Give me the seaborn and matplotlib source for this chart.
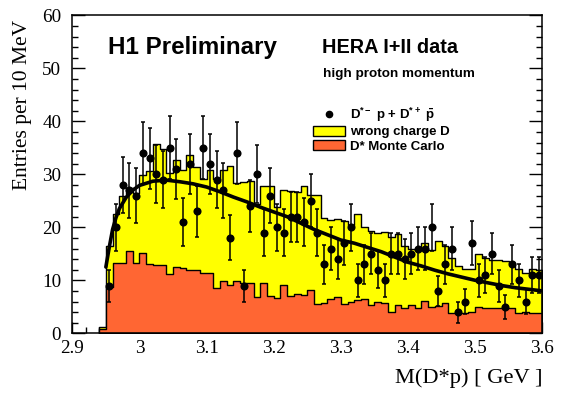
import numpy as np
import pandas as pd
import matplotlib
matplotlib.use("Agg")
import matplotlib.pyplot as plt
from matplotlib.lines import Line2D
from matplotlib.patches import Patch
from matplotlib.ticker import MultipleLocator
import seaborn as sns

# ---------------- data ----------------
bin_left = [round(2.94 + 0.01 * i, 2) for i in range(66)]

wrong_charge = [1.1, 16.4, 22.6, 25.9, 27.5, 26.5, 29.8, 30.6, 35.7, 34.7,
                30.2, 32.7, 30.9, 33.6, 31.4, 29.2, 30.8, 29.2, 30.8, 31.6,
                28.4, 28.6, 28.8, 24.4, 27.8, 27.8, 23.9, 27.0, 26.9, 26.7,
                27.7, 26.1, 26.1, 21.8, 21.4, 21.5, 21.1, 20.4, 22.6, 20.1,
                19.3, 19.0, 19.1, 18.1, 18.7, 16.5, 16.0, 15.8, 17.0, 15.7,
                17.5, 16.5, 14.3, 12.7, 12.1, 12.1, 14.9, 14.3, 13.8, 13.8,
                13.6, 13.3, 12.1, 11.3, 12.1, 11.9]

monte_carlo = [0.8, 8.8, 13.2, 13.2, 15.5, 13.3, 15.2, 13.1, 12.8, 12.8,
               11.1, 12.6, 12.3, 12.0, 11.9, 11.3, 11.4, 8.5, 9.9, 9.1,
               9.9, 9.4, 9.4, 6.8, 9.4, 7.0, 6.6, 9.1, 7.0, 7.4,
               7.3, 8.1, 5.5, 5.8, 6.4, 6.9, 5.5, 6.0, 6.3, 6.4,
               5.3, 5.9, 5.8, 4.1, 5.3, 4.7, 5.3, 4.7, 6.1, 4.9,
               5.2, 5.8, 3.9, 3.9, 3.9, 4.1, 5.0, 4.8, 4.8, 4.7,
               4.7, 4.7, 3.8, 4.1, 3.9, 3.9]

data_mass = [round(2.955 + 0.01 * i, 3) for i in range(65)]
data_counts = [9, 20, 28, 27, 26, 34, 33, 30, 29, 35,
               31, 21, 32, 23, 35, 32, 29, 27, 18, 34,
               9, 24, 30, 19, 26, 20, 19, 22, 22, 21,
               25, 19, 13, 16, 14, 17, 20, 10, 13, 15,
               12, 10, 15, 15, 14, 15, 16, 16, 20, 8,
               13, 16, 4, 6, 17, 10, 11, 15, 9, 5,
               13, 10, 6, 11, 11]

fit_mass = [2.950, 2.955, 2.960, 2.965, 2.970, 2.980, 2.990, 3.000, 3.020,
            3.040, 3.060, 3.080, 3.100, 3.120, 3.140, 3.160, 3.180, 3.200,
            3.220, 3.240, 3.260, 3.280, 3.300, 3.320, 3.340, 3.360, 3.380,
            3.400, 3.420, 3.440, 3.460, 3.480, 3.500, 3.520, 3.540, 3.560,
            3.580, 3.600]
fit_values = [12.5, 16.2, 19.6, 21.8, 23.5, 25.6, 27.0, 27.9, 28.7,
              28.9, 28.6, 28.2, 27.6, 26.7, 25.7, 24.8, 23.8, 22.9,
              22.0, 20.8, 19.6, 18.6, 17.6, 17.0, 16.2, 15.4, 14.4,
              13.4, 12.7, 11.9, 11.2, 10.6, 10.0, 9.5, 9.0, 8.6,
              8.3, 8.0]

x_ticks = [2.9, 3.0, 3.1, 3.2, 3.3, 3.4, 3.5, 3.6]
x_tick_labels = ["2.9", "3", "3.1", "3.2", "3.3", "3.4", "3.5", "3.6"]
y_ticks = [0, 10, 20, 30, 40, 50, 60]

# ---------------- style ----------------
sns.set_style("ticks")
plt.rcParams["font.family"] = ["Liberation Serif", "DejaVu Serif"]
plt.rcParams["text.color"] = "black"
plt.rcParams["axes.labelcolor"] = "black"
plt.rcParams["xtick.color"] = "black"
plt.rcParams["ytick.color"] = "black"
plt.rcParams["axes.edgecolor"] = "black"
plt.rcParams["mathtext.fontset"] = "custom"
plt.rcParams["mathtext.rm"] = "Liberation Sans:bold"
plt.rcParams["mathtext.it"] = "Liberation Sans:bold"
plt.rcParams["mathtext.bf"] = "Liberation Sans:bold"

W, H = 564, 396
fig = plt.figure(figsize=(W / 100, H / 100), dpi=100)
ax = fig.add_axes([72.3 / W, 1 - 333.3 / H, 470 / W, 318 / H])

edges = bin_left + [round(bin_left[-1] + 0.01, 2)]
centers = [round(b + 0.005, 3) for b in bin_left]
hist_df = pd.DataFrame({"mass": centers, "wrong": wrong_charge, "mc": monte_carlo})

sns.histplot(data=hist_df, x="mass", weights="wrong", bins=edges, element="step",
             fill=True, color="#ffff00", alpha=1, edgecolor="black",
             linewidth=1.0, ax=ax, zorder=1)
sns.histplot(data=hist_df, x="mass", weights="mc", bins=edges, element="step",
             fill=True, color="#ff6633", alpha=1, edgecolor="black",
             linewidth=1.0, ax=ax, zorder=2)

fit_df = pd.DataFrame({"mass": fit_mass, "fit": fit_values})
sns.lineplot(data=fit_df, x="mass", y="fit", color="black", linewidth=2.6,
             sort=False, estimator=None, ax=ax, zorder=3)

data_df = pd.DataFrame({"mass": data_mass, "n": data_counts})
ax.errorbar(data_df["mass"], data_df["n"], yerr=np.sqrt(data_df["n"]),
            fmt="none", ecolor="black", elinewidth=1.1, capsize=1.5,
            capthick=1.1, zorder=4)
sns.scatterplot(data=data_df, x="mass", y="n", color="black", s=34,
                marker="o", edgecolor="black", linewidth=0, ax=ax, zorder=5)

# ---------------- axes ----------------
ax.set_xlim(2.9, 3.6)
ax.set_ylim(0, 60)
ax.set_xticks(x_ticks)
ax.set_xticklabels(x_tick_labels)
ax.set_yticks(y_ticks)
ax.xaxis.set_minor_locator(MultipleLocator(0.02))
ax.yaxis.set_minor_locator(MultipleLocator(2))
ax.tick_params(which="both", direction="in", top=False, right=True,
               labelsize=13.8, colors="black", labelcolor="black", width=1.0)
ax.tick_params(axis="y", which="major", length=9.4, pad=8)
ax.tick_params(axis="y", which="minor", length=4.5)
ax.tick_params(axis="x", which="major", length=8, pad=5)
ax.tick_params(axis="x", which="minor", length=4)
for s in ax.spines.values():
    s.set_linewidth(1.1)
    s.set_color("black")

ax.set_xlabel("")
ax.set_ylabel("")
fig.text(542.5 / W, 1 - 383 / H, "M(D*p) [ GeV ]", ha="right", va="baseline",
         fontsize=16.2, color="black", family=["Liberation Serif", "DejaVu Serif"])
fig.text(13 / W, 1 - 105 / H, "Entries per 10 MeV", rotation=90, ha="left",
         va="center", fontsize=15.5, color="black",
         family=["Liberation Serif", "DejaVu Serif"])

# ---------------- annotations ----------------
sans = ["Liberation Sans", "DejaVu Sans"]
fig.text(108 / W, 1 - 54 / H, "H1 Preliminary", ha="left", va="baseline",
         fontsize=17.4, fontweight="bold", color="black", family=sans)
fig.text(322 / W, 1 - 53 / H, "HERA I+II data", ha="left", va="baseline",
         fontsize=14.3, fontweight="bold", color="black", family=sans)
fig.text(323 / W, 1 - 77 / H, "high proton momentum", ha="left", va="baseline",
         fontsize=9.7, fontweight="bold", color="black", family=sans)

handles = [
    Line2D([], [], marker="o", color="black", linestyle="none", markersize=4.5),
    Patch(facecolor="#ffff00", edgecolor="black", linewidth=1.0),
    Patch(facecolor="#ff6633", edgecolor="black", linewidth=1.0),
]
labels = [r"D$^{*-}$ p + D$^{*+}$ $\bar{\mathrm{p}}$", "wrong charge D", "D* Monte Carlo"]
leg = ax.legend(handles, labels, loc="upper left",
                bbox_to_anchor=(313 / W, 1 - 106 / H), bbox_transform=fig.transFigure,
                frameon=False, borderpad=0, borderaxespad=0, handlelength=2.4,
                handleheight=0.8, handletextpad=0.4, labelspacing=0.12,
                prop={"family": sans, "weight": "bold", "size": 9.5})
for t in leg.get_texts():
    t.set_color("black")

fig.savefig("out.png", dpi=100)
